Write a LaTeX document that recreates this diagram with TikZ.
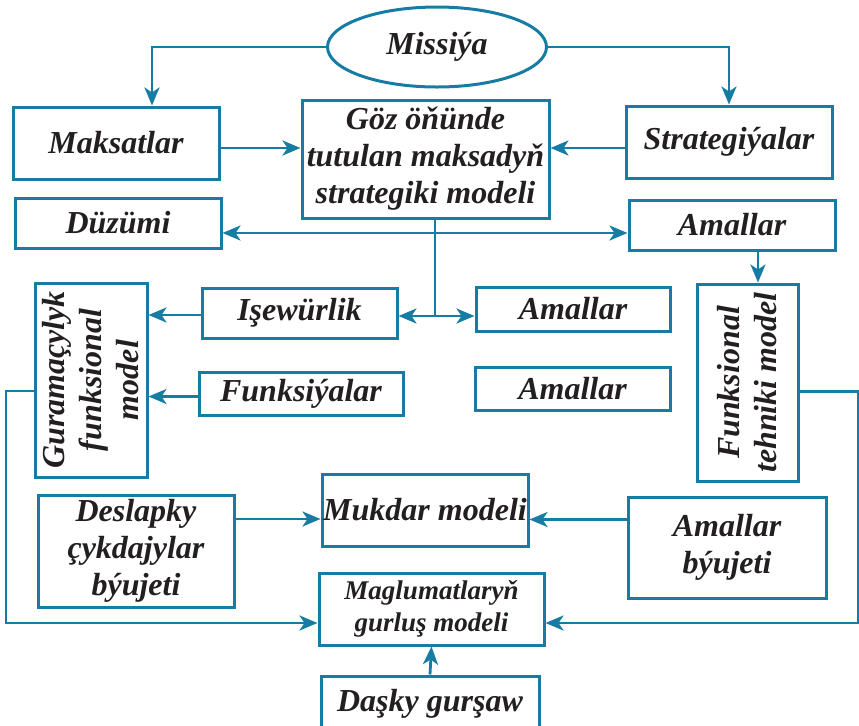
\documentclass[tikz,border=0pt]{standalone}
\usepackage{fontspec}
\setmainfont{Liberation Serif}
\usetikzlibrary{arrows.meta,shapes.geometric}
\definecolor{lineblue}{RGB}{22,124,163}
\definecolor{inkblack}{RGB}{35,31,32}

\begin{document}
\begin{tikzpicture}[x=0.5pt, y=-0.5pt, line join=miter,
    box/.style={draw=lineblue, line width=1.5pt, inner sep=0pt, align=center,
      text=inkblack, font=\bfseries\itshape\fontsize{16}{18.5}\selectfont},
    arr/.style={draw=lineblue, line width=1.4pt,
      -{Stealth[length=9pt, width=7.5pt, inset=2.5pt]}},
    arrs/.style={arr, {Stealth[length=9pt, width=7.5pt, inset=2.5pt]}-{Stealth[length=9pt, width=7.5pt, inset=2.5pt]}},
    ln/.style={draw=lineblue, line width=1.4pt}]
  \useasboundingbox (0,0) rectangle (859,725); % identical box

  % --- top row ---
  \node[box, ellipse, minimum width=109.5pt, minimum height=40pt] (mis) at (437,47) {Missiýa};
  \node[box, minimum width=103pt, minimum height=36pt] (maks) at (116,143) {Maksatlar};
  \node[box, minimum width=123.5pt, minimum height=59pt] (goz) at (425.5,159)
    {Göz öňünde\\tutulan maksadyň\\strategiki modeli};
  \node[box, minimum width=103pt, minimum height=36pt] (strat) at (729,142) {Strategiýalar};
  \node[box, minimum width=103pt, minimum height=25pt] (duz) at (118,223) {Düzümi};
  \node[box, minimum width=103pt, minimum height=25pt] (aml1) at (732,225) {Amallar};

  % --- middle ---
  \node[box, rotate=90, minimum width=97pt, minimum height=56pt] (gur) at (91,380)
    {Guramaçylyk\\funksional\\model};
  \node[box, minimum width=97.5pt, minimum height=25pt] (ise) at (299.5,313) {Işewürlik};
  \node[box, minimum width=102pt, minimum height=21.5pt] (fun) at (301,393.5) {Funksiýalar};
  \node[box, minimum width=97pt, minimum height=22pt] (aml2) at (573,309) {Amallar};
  \node[box, minimum width=97.5pt, minimum height=21.5pt] (aml3) at (572.5,388.5) {Amallar};
  \node[box, rotate=90, minimum width=98.5pt, minimum height=50.5pt] (ftm) at (747.5,382.5)
    {Funksional\\tehniki model};

  % --- bottom ---
  \node[box, minimum width=98pt, minimum height=56pt] (des) at (136,551)
    {Deslapky\\çykdajylar\\býujeti};
  \node[box, minimum width=103pt, minimum height=36pt] (muk) at (425,510) {Mukdar modeli};
  \node[box, minimum width=99pt, minimum height=50.5pt] (amb) at (727,547.5) {Amallar\\býujeti};
  \node[box, minimum width=112.5pt, minimum height=36pt,
    font=\bfseries\itshape\fontsize{13.5}{16}\selectfont] (mag) at (431.5,609)
    {Maglumatlaryň\\gurluş modeli};
  \node[box, minimum width=109pt, minimum height=28pt] (dask) at (430,704) {Daşky gurşaw};

  % --- connectors ---
  \draw[arr] (mis.west) -| ([xshift=18pt]maks.north);
  \draw[arr] (mis.east) -| (strat.north);
  \draw[arr] ([yshift=-2.5pt]maks.east) -- ([yshift=-2.5pt]maks.east -| goz.west);
  \draw[arr] ([yshift=-3pt]strat.west) -- ([yshift=-3pt]strat.west -| goz.east);
  \draw[arrs] ([yshift=-5pt]duz.east) -- ([yshift=-5pt]duz.east -| aml1.west);

  \coordinate (split) at (435,316);
  \draw[ln] ([xshift=4.75pt]goz.south) -- (split);
  \draw[arr] (split) -- (split -| ise.east);
  \draw[arr] (split) -- (split -| aml2.west);
  \draw[arr] ([xshift=13pt]aml1.south) -- ([xshift=13pt]aml1.south |- ftm.east);

  \draw[arr] ([yshift=-1pt]ise.west) -- ([yshift=-1pt]ise.west -| gur.south);
  \draw[arr] ([yshift=-1.5pt]fun.west) -- ([yshift=-1.5pt]fun.west -| gur.south);

  \coordinate (lc) at (6,623);
  \coordinate (rc) at (858,623);
  \draw[arr] ([yshift=-5.5pt]gur.north) -| (lc) -- (lc -| mag.west);
  \draw[arr] ([yshift=-4.5pt]ftm.south) -| (rc) -- (rc -| mag.east);

  \draw[arr] ([yshift=16pt]des.east) -- ([yshift=16pt]des.east -| muk.west);
  \draw[arr] ([yshift=14pt]amb.west) -- ([yshift=14pt]amb.west -| muk.east);
  \draw[arr] (dask.north) -- (mag.south);
\end{tikzpicture}
\end{document}
